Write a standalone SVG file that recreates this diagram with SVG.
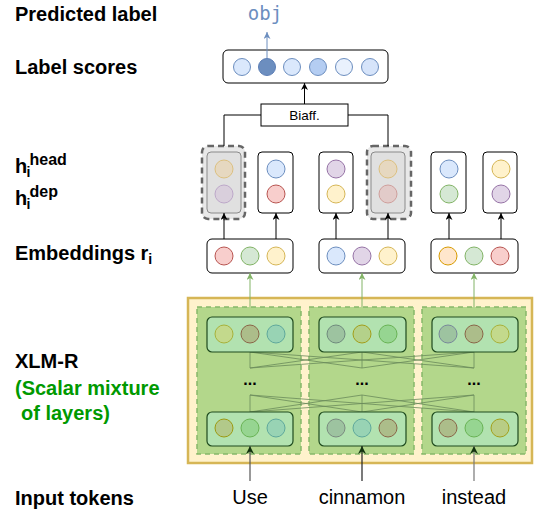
<svg xmlns="http://www.w3.org/2000/svg" width="535" height="510" viewBox="0 0 535 510">
<style>
.lbl{font-family:"Liberation Sans",Arial,sans-serif;font-weight:bold;font-size:20px;fill:#000}
.tok{font-family:"Liberation Sans",Arial,sans-serif;font-size:20px;fill:#000;text-anchor:middle}
.box{fill:#fff;stroke:#000;stroke-width:1}
.layer{fill:#b2e2b0;stroke:#1e4a1e;stroke-width:1.2}
.col{fill:#b3d78b;stroke:#86b86a;stroke-width:1.5;stroke-dasharray:5 4}
.mix{stroke:#6a8a5a;stroke-width:0.8;fill:none}
.dots{font-family:"Liberation Sans",Arial,sans-serif;font-weight:bold;font-size:16px;text-anchor:middle;fill:#000}
</style>
<defs>
<marker id="ab" viewBox="0 0 10 10" refX="10" refY="5" markerWidth="7" markerHeight="7" markerUnits="userSpaceOnUse" orient="auto"><path d="M0,0 L10,5 L0,10 L3,5 z" fill="#000"/></marker>
<marker id="ablue" viewBox="0 0 10 10" refX="10" refY="5" markerWidth="7" markerHeight="7" markerUnits="userSpaceOnUse" orient="auto"><path d="M0,0 L10,5 L0,10 L3,5 z" fill="#6c8ebf"/></marker>
<marker id="agreen" viewBox="0 0 10 10" refX="10" refY="5" markerWidth="7" markerHeight="7" markerUnits="userSpaceOnUse" orient="auto"><path d="M0,0 L10,5 L0,10 L3,5 z" fill="#82b366"/></marker>
<marker id="adg" viewBox="0 0 10 10" refX="10" refY="5" markerWidth="8" markerHeight="8" markerUnits="userSpaceOnUse" orient="auto"><path d="M0,0 L10,5 L0,10 L3,5 z" fill="#12330f"/></marker>
</defs>

<g id="labels">
<text class="lbl" x="15" y="21">Predicted label</text>
<text class="lbl" x="15" y="74">Label scores</text>
<text class="lbl" x="15" y="173">h<tspan x="26.5" y="177" font-size="14">i</tspan><tspan x="29.5" y="165" font-size="16">head</tspan></text>
<text class="lbl" x="15" y="205">h<tspan x="26.5" y="209" font-size="14">i</tspan><tspan x="29.5" y="197" font-size="16">dep</tspan></text>
<text class="lbl" x="15" y="260">Embeddings r<tspan font-size="14" dy="4">i</tspan></text>
<text class="lbl" x="15" y="368">XLM-R</text>
<text class="lbl" x="15" y="395" style="fill:#009900">(Scalar mixture</text>
<text class="lbl" x="21" y="420" style="fill:#009900">of layers)</text>
<text class="lbl" x="15" y="505">Input tokens</text>
</g>

<g id="predicted">
<text x="265" y="20" font-family="DejaVu Sans Mono,monospace" font-size="19" fill="#6c8ebf" text-anchor="middle">obj</text>
</g>

<g id="label-scores">
<rect x="223" y="50" width="165" height="33" rx="5" class="box"/>
<circle cx="242" cy="67" r="8.5" fill="#dae8fc" stroke="#6c8ebf"/>
<circle cx="267" cy="67" r="8.5" fill="#6c8ebf" stroke="#5b7db5"/>
<circle cx="292" cy="67" r="8.5" fill="#dae8fc" stroke="#6c8ebf"/>
<circle cx="318" cy="67" r="8.5" fill="#b4cdf2" stroke="#6c8ebf"/>
<circle cx="344" cy="67" r="8.5" fill="#e9f1fd" stroke="#6c8ebf"/>
<circle cx="370" cy="67" r="8.5" fill="#d6e4fa" stroke="#6c8ebf"/>
</g>

<g id="biaff">
<rect x="261" y="104" width="87" height="22" class="box"/>
<text x="304.5" y="120" font-family="Liberation Sans,Arial,sans-serif" font-size="13.5" text-anchor="middle">Biaff.</text>
</g>

<g id="h1">
<rect x="202" y="146" width="43" height="73" rx="6" fill="#e8e8e8" stroke="#666" stroke-width="2.5" stroke-dasharray="6 4"/>
<rect x="207" y="152" width="34" height="61" rx="4" fill="#e0e0e0" stroke="#8a8a8a"/>
<circle cx="224" cy="169" r="9" fill="#e6d8c0" stroke="#dcc080"/>
<circle cx="224" cy="194" r="9" fill="#d9cfdc" stroke="#bda8c9"/>
</g>
<g id="h2">
<rect x="258" y="152" width="35" height="61" rx="4" class="box"/>
<circle cx="276" cy="169" r="9" fill="#dae8fc" stroke="#6c8ebf"/>
<circle cx="276" cy="194" r="9" fill="#f8cecc" stroke="#b85450"/>
</g>
<g id="h3">
<rect x="319" y="152" width="34" height="61" rx="4" class="box"/>
<circle cx="336" cy="169" r="9" fill="#e1d5e7" stroke="#9673a6"/>
<circle cx="336" cy="194" r="9" fill="#fff2cc" stroke="#d6b656"/>
</g>
<g id="h4">
<rect x="367" y="146" width="44" height="73" rx="6" fill="#e8e8e8" stroke="#666" stroke-width="2.5" stroke-dasharray="6 4"/>
<rect x="371" y="152" width="34" height="61" rx="4" fill="#e0e0e0" stroke="#8a8a8a"/>
<circle cx="388" cy="169" r="9" fill="#e6d8c0" stroke="#dcc080"/>
<circle cx="388" cy="194" r="9" fill="#e2cbc9" stroke="#cf9f9c"/>
</g>
<g id="h5">
<rect x="431" y="152" width="35" height="61" rx="4" class="box"/>
<circle cx="449" cy="169" r="9" fill="#dae8fc" stroke="#6c8ebf"/>
<circle cx="449" cy="194" r="9" fill="#d5e8d4" stroke="#82b366"/>
</g>
<g id="h6">
<rect x="483" y="152" width="34" height="61" rx="4" class="box"/>
<circle cx="501" cy="169" r="9" fill="#fff2cc" stroke="#d6b656"/>
<circle cx="501" cy="194" r="9" fill="#e1d5e7" stroke="#9673a6"/>
</g>

<g id="emb1">
<rect x="207" y="239" width="86" height="34" rx="5" class="box"/>
<circle cx="224" cy="256" r="9" fill="#f8cecc" stroke="#b85450"/>
<circle cx="250" cy="256" r="9" fill="#d5e8d4" stroke="#82b366"/>
<circle cx="276" cy="256" r="9" fill="#fff2cc" stroke="#d6b656"/>
</g>
<g id="emb2">
<rect x="319" y="239" width="86" height="34" rx="5" class="box"/>
<circle cx="336" cy="256" r="9" fill="#dae8fc" stroke="#6c8ebf"/>
<circle cx="362" cy="256" r="9" fill="#e1d5e7" stroke="#9673a6"/>
<circle cx="388" cy="256" r="9" fill="#fff2cc" stroke="#d6b656"/>
</g>
<g id="emb3">
<rect x="431" y="239" width="87" height="34" rx="5" class="box"/>
<circle cx="448" cy="256" r="9" fill="#ffe6cc" stroke="#d79b00"/>
<circle cx="474" cy="256" r="9" fill="#d5e8d4" stroke="#82b366"/>
<circle cx="500" cy="256" r="9" fill="#f8cecc" stroke="#b85450"/>
</g>

<g id="xlmr">
<rect x="188" y="298" width="344" height="165" fill="#fff2cc" stroke="#d6b656" stroke-width="2.5"/>
<rect x="197" y="307" width="104" height="147" class="col"/>
<rect x="309" y="307" width="105" height="147" class="col"/>
<rect x="422" y="307" width="104" height="147" class="col"/>
<text class="dots" x="250" y="385">...</text>
<text class="dots" x="362" y="385">...</text>
<text class="dots" x="474" y="385">...</text>
</g>

<g id="mixture-lines">
<path class="mix" d="M250,352 L250,368 M250,352 L362,368 M250,352 L474,368 M362,352 L250,368 M362,352 L362,368 M362,352 L474,368 M474,352 L250,368 M474,352 L362,368 M474,352 L474,368"/>
<path class="mix" d="M250,395 L250,412 M250,395 L362,412 M250,395 L474,412 M362,395 L250,412 M362,395 L362,412 M362,395 L474,412 M474,395 L250,412 M474,395 L362,412 M474,395 L474,412"/>
</g>

<g id="layer-top1">
<rect x="207" y="317" width="86" height="35" rx="5" class="layer"/>
<circle cx="224" cy="334" r="9" fill="#c3d98c" stroke="#a8b13a"/>
<circle cx="250" cy="334" r="9" fill="#acbd8a" stroke="#8a6548"/>
<circle cx="276" cy="334" r="9" fill="#98d3b4" stroke="#5fa89c"/>
</g>
<g id="layer-top2">
<rect x="319" y="317" width="87" height="35" rx="5" class="layer"/>
<circle cx="336" cy="334" r="9" fill="#9dc3a0" stroke="#6f8a7d"/>
<circle cx="362" cy="334" r="9" fill="#b4d18a" stroke="#a39e1a"/>
<circle cx="388" cy="334" r="9" fill="#96d591" stroke="#69b355"/>
</g>
<g id="layer-top3">
<rect x="432" y="317" width="86" height="35" rx="5" class="layer"/>
<circle cx="448" cy="334" r="9" fill="#9dc3a0" stroke="#78889a"/>
<circle cx="474" cy="334" r="9" fill="#acbd8a" stroke="#8a6548"/>
<circle cx="500" cy="334" r="9" fill="#c3d98c" stroke="#a8b13a"/>
</g>
<g id="layer-bot1">
<rect x="207" y="412" width="86" height="34" rx="5" class="layer"/>
<circle cx="224" cy="428" r="9" fill="#b2c98a" stroke="#9c9a12"/>
<circle cx="250" cy="428" r="9" fill="#96d591" stroke="#69b355"/>
<circle cx="276" cy="428" r="9" fill="#98d3b4" stroke="#5fa89c"/>
</g>
<g id="layer-bot2">
<rect x="319" y="412" width="87" height="34" rx="5" class="layer"/>
<circle cx="336" cy="428" r="9" fill="#9dc3a0" stroke="#7a8a80"/>
<circle cx="362" cy="428" r="9" fill="#98d3b4" stroke="#5fa89c"/>
<circle cx="388" cy="428" r="9" fill="#acbd8a" stroke="#8a6548"/>
</g>
<g id="layer-bot3">
<rect x="432" y="412" width="86" height="34" rx="5" class="layer"/>
<circle cx="448" cy="428" r="9" fill="#acbd8a" stroke="#8a6548"/>
<circle cx="474" cy="428" r="9" fill="#96d591" stroke="#69b355"/>
<circle cx="500" cy="428" r="9" fill="#b8cd85" stroke="#a3a01c"/>
</g>

<g id="tokens">
<text class="tok" x="250" y="504">Use</text>
<text class="tok" x="362" y="504">cinnamon</text>
<text class="tok" x="474" y="504">instead</text>
</g>

<g id="connectors" fill="none">
<line x1="267" y1="58" x2="267" y2="32" stroke="#6c8ebf" stroke-width="1" marker-end="url(#ablue)"/>
<line x1="304.5" y1="104" x2="304.5" y2="83" stroke="#000" stroke-width="1" marker-end="url(#ab)"/>
<polyline points="261,115 224,115 224,146" stroke="#000" stroke-width="1"/>
<polyline points="348,115 388,115 388,146" stroke="#000" stroke-width="1"/>
<line x1="224" y1="239" x2="224" y2="213" stroke="#000" marker-end="url(#ab)"/>
<line x1="276" y1="239" x2="276" y2="213" stroke="#000" marker-end="url(#ab)"/>
<line x1="336" y1="239" x2="336" y2="213" stroke="#000" marker-end="url(#ab)"/>
<line x1="388" y1="239" x2="388" y2="213" stroke="#000" marker-end="url(#ab)"/>
<line x1="449" y1="239" x2="449" y2="213" stroke="#000" marker-end="url(#ab)"/>
<line x1="501" y1="239" x2="501" y2="213" stroke="#000" marker-end="url(#ab)"/>
<line x1="250" y1="307" x2="250" y2="273" stroke="#82b366" marker-end="url(#agreen)"/>
<line x1="362" y1="307" x2="362" y2="273" stroke="#82b366" marker-end="url(#agreen)"/>
<line x1="474" y1="307" x2="474" y2="273" stroke="#82b366" marker-end="url(#agreen)"/>
<line x1="250" y1="481" x2="250" y2="446" stroke="#555" stroke-width="1.2" marker-end="url(#adg)"/>
<line x1="362" y1="481" x2="362" y2="446" stroke="#222" stroke-width="1.2" marker-end="url(#adg)"/>
<line x1="474" y1="481" x2="474" y2="446" stroke="#777" stroke-width="1.2" marker-end="url(#adg)"/>
</g>
</svg>
